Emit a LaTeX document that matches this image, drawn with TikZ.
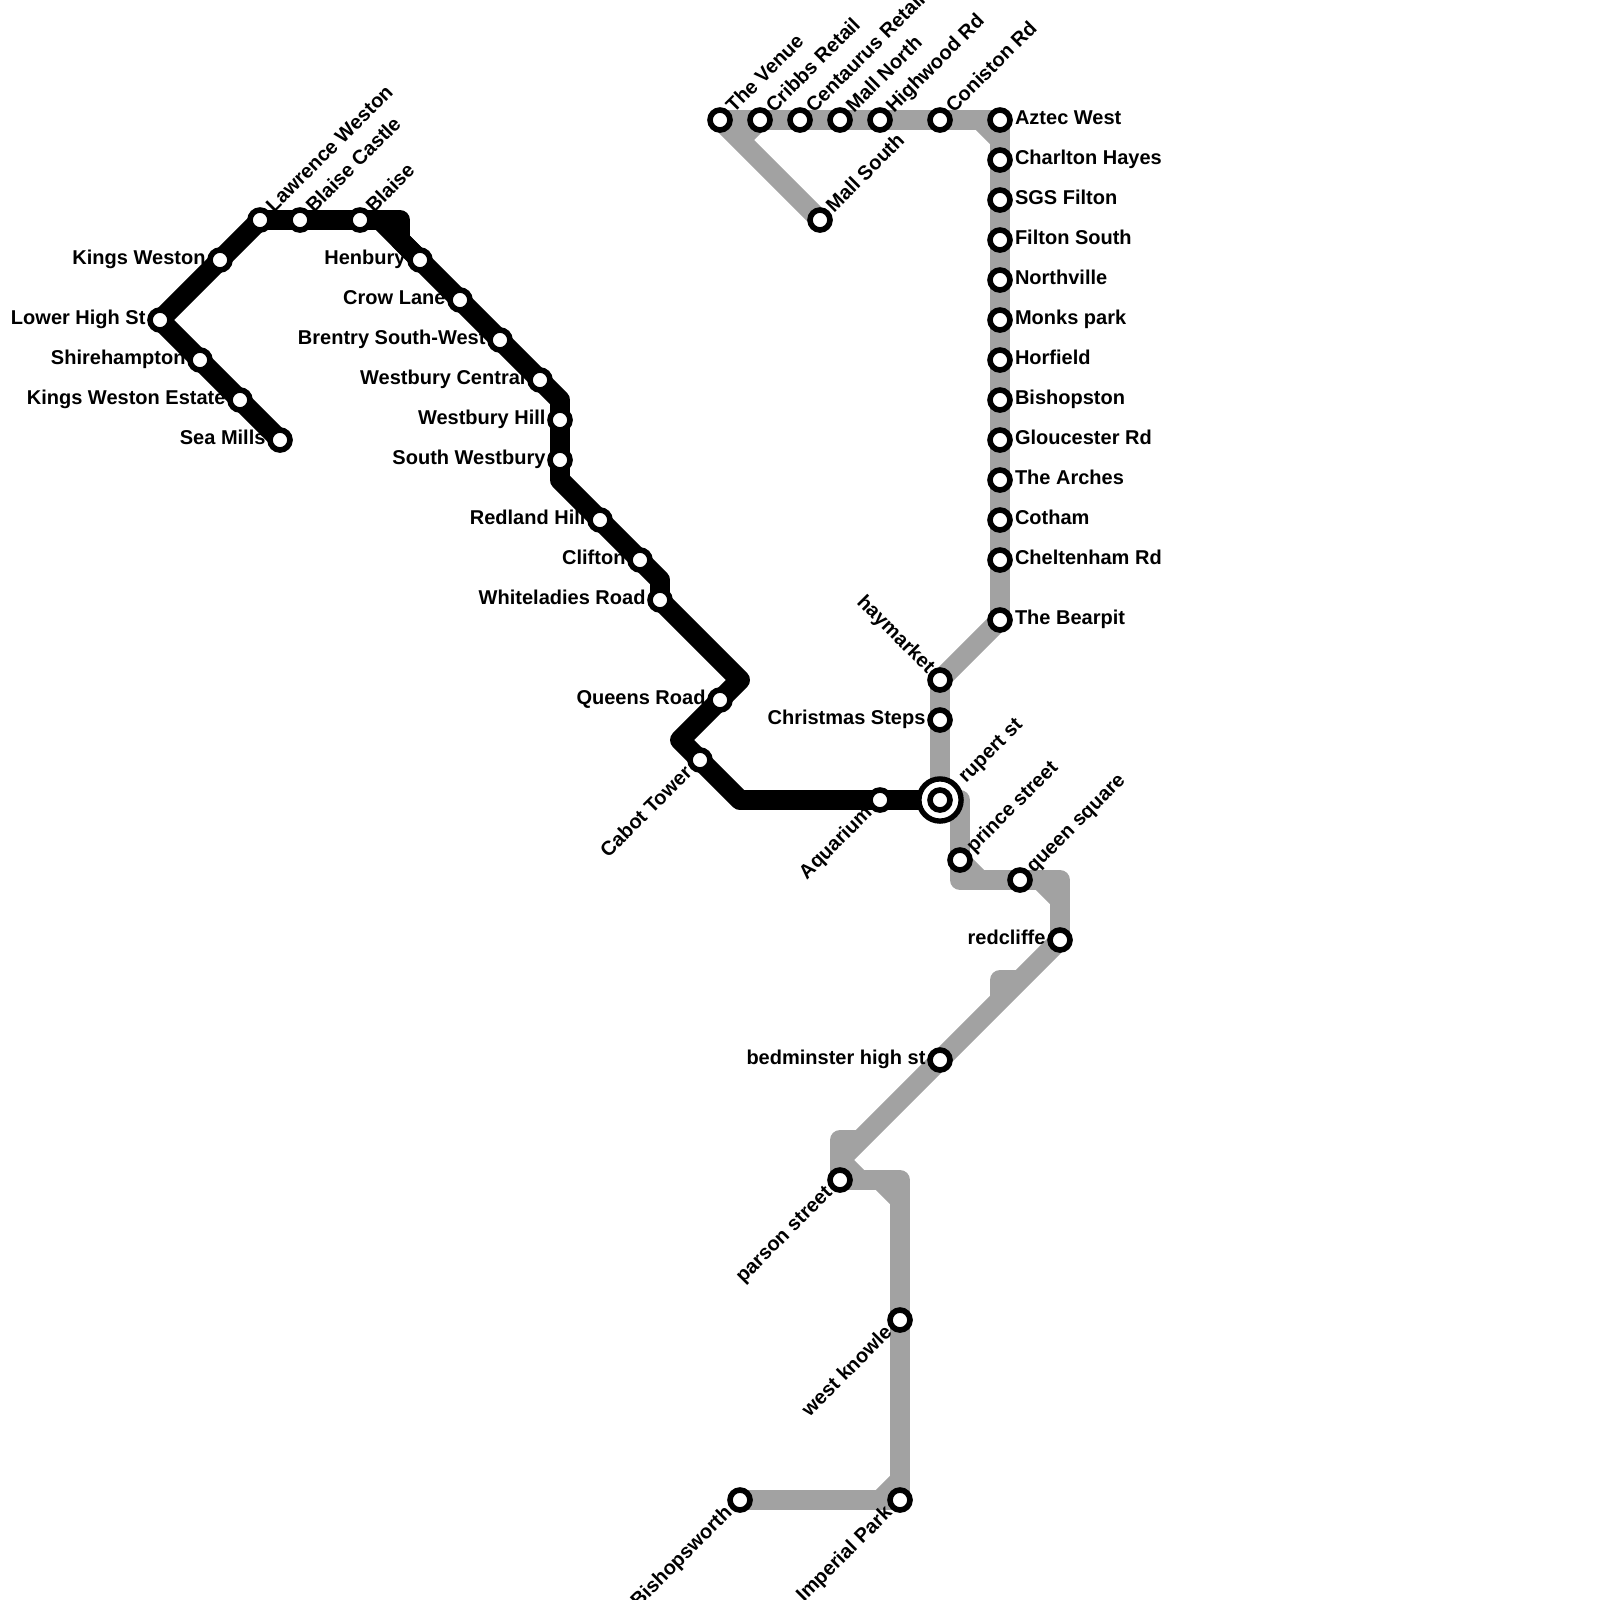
\documentclass[tikz,border=0pt]{standalone}
\usepackage{fontspec}
\setmainfont{Liberation Sans}
\pgfdeclarelayer{lines}
\pgfsetlayers{lines,main}
\def\px{0.025cm}
\tikzset{
  x=0.025cm,y=-0.025cm,
  stnG/.style={circle,draw=black,fill=white,line width=4pt,minimum size=14.2pt,inner sep=0pt,outer sep=0pt},
  stnK/.style={stnG},
  ichg/.style={circle,draw=black,fill=white,line width=3.8pt,minimum size=30pt,inner sep=0pt,outer sep=0pt},
  lineK/.style={draw=black,line width=14.2pt,line join=round,line cap=butt},
  lineG/.style={draw=greyline,line width=14.2pt,line join=round,line cap=butt},
  lbl/.style={font=\bfseries\fontsize{14.23pt}{14.23pt}\selectfont,inner sep=0pt,outer sep=0pt,text=black},
  lblR/.style={lbl,anchor=base west,xshift=15*\px,yshift=-4.2*\px},
  lblL/.style={lbl,anchor=base east,xshift=-14.5*\px,yshift=-4.5*\px},
  lblUR/.style={lbl,anchor=base west,xshift=14*\px,yshift=6.5*\px,rotate=45},
  lblDL/.style={lbl,anchor=base east,xshift=-7*\px,yshift=-14*\px,rotate=45},
  lblUL/.style={lbl,anchor=base east,xshift=-13*\px,yshift=6*\px,rotate=-45},
}
\definecolor{greyline}{HTML}{A2A2A2}
\newcommand{\stn}[7]{% name, x, y, station style, label style, extra shift, text
  \node[#4] (#1) at (#2,#3) {};
  \node[#6,#5] (#1-l) at (#2,#3) {#7};
}
\begin{document}
\begin{tikzpicture}
\useasboundingbox (0,0) rectangle (1600,1600);
% black line stations
\stn{lowerhigh}{160}{320}{stnK}{lblL}{}{Lower High St}
\stn{shire}{200}{360}{stnK}{lblL}{}{Shirehampton}
\stn{kwe}{240}{400}{stnK}{lblL}{}{Kings Weston Estate}
\stn{seamills}{280}{440}{stnK}{lblL}{}{Sea Mills}
\stn{kw}{220}{260}{stnK}{lblL}{}{Kings Weston}
\stn{lawrence}{260}{220}{stnK}{lblUR}{}{Lawrence Weston}
\stn{blaisec}{300}{220}{stnK}{lblUR}{}{Blaise Castle}
\stn{blaise}{360}{220}{stnK}{lblUR}{}{Blaise}
\stn{henbury}{420}{260}{stnK}{lblL}{}{Henbury}
\stn{crow}{460}{300}{stnK}{lblL}{}{Crow Lane}
\stn{brentry}{500}{340}{stnK}{lblL}{}{Brentry South-West}
\stn{wcentral}{540}{380}{stnK}{lblL}{}{Westbury Central}
\stn{whill}{560}{420}{stnK}{lblL}{}{Westbury Hill}
\stn{swest}{560}{460}{stnK}{lblL}{}{South Westbury}
\stn{redland}{600}{520}{stnK}{lblL}{}{Redland Hill}
\stn{clifton}{640}{560}{stnK}{lblL}{}{Clifton}
\stn{white}{660}{600}{stnK}{lblL}{}{Whiteladies Road}
\stn{queens}{720}{700}{stnK}{lblL}{}{Queens Road}
\stn{cabot}{700}{760}{stnK}{lblDL}{}{Cabot Tower}
\stn{aqua}{880}{800}{stnK}{lblDL}{}{Aquarium}
% interchange
\node[ichg] (rupertO) at (940,800) {};
\stn{rupert}{940}{800}{stnG}{lblUR}{xshift=12*\px,yshift=10*\px}{rupert st}
% grey line stations
\stn{venue}{720}{120}{stnG}{lblUR}{}{The Venue}
\stn{cribbs}{760}{120}{stnG}{lblUR}{}{Cribbs Retail}
\stn{centaurus}{800}{120}{stnG}{lblUR}{}{Centaurus Retail}
\stn{mallN}{840}{120}{stnG}{lblUR}{}{Mall North}
\stn{highwood}{880}{120}{stnG}{lblUR}{}{Highwood Rd}
\stn{coniston}{940}{120}{stnG}{lblUR}{}{Coniston Rd}
\stn{mallS}{820}{220}{stnG}{lblUR}{}{Mall South}
\stn{aztec}{1000}{120}{stnG}{lblR}{}{Aztec West}
\stn{charlton}{1000}{160}{stnG}{lblR}{}{Charlton Hayes}
\stn{sgs}{1000}{200}{stnG}{lblR}{}{SGS Filton}
\stn{filton}{1000}{240}{stnG}{lblR}{}{Filton South}
\stn{north}{1000}{280}{stnG}{lblR}{}{Northville}
\stn{monks}{1000}{320}{stnG}{lblR}{}{Monks park}
\stn{horfield}{1000}{360}{stnG}{lblR}{}{Horfield}
\stn{bishopston}{1000}{400}{stnG}{lblR}{}{Bishopston}
\stn{glos}{1000}{440}{stnG}{lblR}{}{Gloucester Rd}
\stn{arches}{1000}{480}{stnG}{lblR}{}{The Arches}
\stn{cotham}{1000}{520}{stnG}{lblR}{}{Cotham}
\stn{chelt}{1000}{560}{stnG}{lblR}{}{Cheltenham Rd}
\stn{bearpit}{1000}{620}{stnG}{lblR}{}{The Bearpit}
\stn{hay}{940}{680}{stnG}{lblUL}{}{haymarket}
\stn{xmas}{940}{720}{stnG}{lblL}{}{Christmas Steps}
\stn{prince}{960}{860}{stnG}{lblUR}{}{prince street}
\stn{queen}{1020}{880}{stnG}{lblUR}{}{queen square}
\stn{red}{1060}{940}{stnG}{lblL}{}{redcliffe}
\stn{bed}{940}{1060}{stnG}{lblL}{}{bedminster high st}
\stn{parson}{840}{1180}{stnG}{lblDL}{}{parson street}
\stn{knowle}{900}{1320}{stnG}{lblDL}{}{west knowle}
\stn{imperial}{900}{1500}{stnG}{lblDL}{}{Imperial Park}
\stn{bishops}{740}{1500}{stnG}{lblDL}{}{Bishopsworth}
% bend points
\coordinate (k1) at (260,220);
\coordinate (k2a) at (380,220);
\coordinate (k2) at (400,220);
\coordinate (k3) at (400,240);
\coordinate (k4) at (560,400);
\coordinate (k5) at (560,480);
\coordinate (k6) at (660,580);
\coordinate (k7) at (740,680);
\coordinate (k8) at (680,740);
\coordinate (k9) at (740,800);
\coordinate (g1) at (1000,140);
\coordinate (g1a) at (980,120);
\coordinate (g2) at (740,140);
\coordinate (g3) at (960,800);
\coordinate (g4) at (960,880);
\coordinate (g4a) at (980,880);
\coordinate (g5) at (1060,880);
\coordinate (g5a) at (1040,880);
\coordinate (g5b) at (1060,900);
\coordinate (g6) at (1020,980);
\coordinate (g7) at (1000,980);
\coordinate (g8) at (1000,1000);
\coordinate (g9) at (860,1140);
\coordinate (g10) at (840,1140);
\coordinate (g11) at (840,1160);
\coordinate (g12) at (860,1180);
\coordinate (g13) at (900,1180);
\coordinate (g14) at (880,1180);
\coordinate (g15) at (900,1200);
\coordinate (g16) at (900,1480);
\coordinate (g17) at (880,1500);
\begin{pgfonlayer}{lines}
% grey
\draw[lineG] (venue.center) -- (aztec.center) -- (bearpit.center) -- (hay.center) -- (rupert.center) -- (g3) -- (g4) -- (g5) -- (red.center) -- (g11);
\draw[lineG] (venue.center) -- (mallS.center);
\draw[lineG] (cribbs.center) -- (g2);
\draw[lineG] (g1a) -- (g1);
\draw[lineG] (prince.center) -- (g4a);
\draw[lineG] (g5a) -- (g5b);
\draw[lineG] (g6) -- (g7) -- (g8);
\draw[lineG] (g9) -- (g10) -- (g11) -- (parson.center) -- (g13) -- (imperial.center) -- (bishops.center);
\draw[lineG] (g11) -- (g12);
\draw[lineG] (g14) -- (g15);
\draw[lineG] (g16) -- (g17);
% black
\draw[lineK] (seamills.center) -- (lowerhigh.center) -- (k1) -- (k2) -- (k3) -- (k4) -- (k5) -- (k6) -- (white.center) -- (k7) -- (k8) -- (k9) -- (rupert.center);
\draw[lineK] (k2a) -- (henbury.center);
\end{pgfonlayer}
\end{tikzpicture}
\end{document}
